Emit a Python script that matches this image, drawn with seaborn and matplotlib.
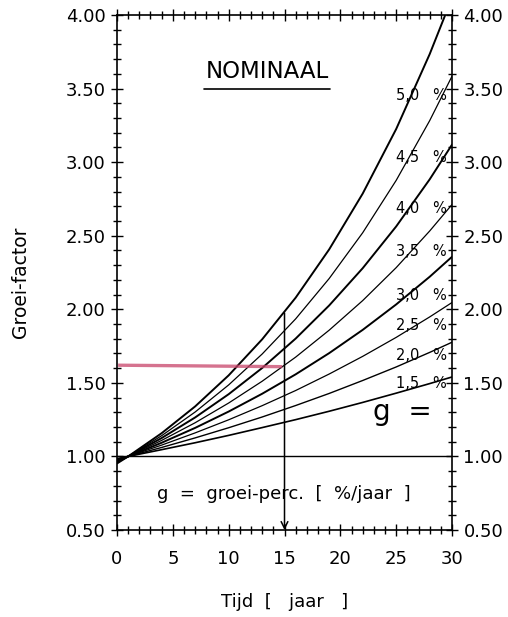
import numpy as np
import pandas as pd
import seaborn as sns
import matplotlib.pyplot as plt
from matplotlib.ticker import MultipleLocator

jaren = [0, 1, 4, 7, 10, 13, 16, 19, 22, 25, 28, 30]

# Groeifactor per groeipercentage
g_15 = [0.985, 1.00, 1.046, 1.093, 1.143, 1.196, 1.250, 1.307, 1.367, 1.430, 1.495, 1.540]
g_20 = [0.980, 1.00, 1.061, 1.126, 1.195, 1.268, 1.346, 1.428, 1.516, 1.608, 1.707, 1.776]
g_25 = [0.976, 1.00, 1.077, 1.160, 1.249, 1.345, 1.448, 1.560, 1.680, 1.809, 1.948, 2.046]
g_30 = [0.971, 1.00, 1.093, 1.194, 1.305, 1.426, 1.558, 1.702, 1.860, 2.033, 2.221, 2.357]
g_35 = [0.966, 1.00, 1.109, 1.229, 1.363, 1.511, 1.675, 1.858, 2.059, 2.283, 2.532, 2.712]
g_40 = [0.962, 1.00, 1.125, 1.265, 1.423, 1.601, 1.801, 2.026, 2.279, 2.563, 2.883, 3.119]
g_45 = [0.957, 1.00, 1.141, 1.302, 1.486, 1.696, 1.935, 2.209, 2.520, 2.876, 3.282, 3.584]
g_50 = [0.952, 1.00, 1.158, 1.340, 1.551, 1.796, 2.079, 2.407, 2.786, 3.225, 3.734, 4.116]

reeksen = [g_15, g_20, g_25, g_30, g_35, g_40, g_45, g_50]
labels = ['1,5', '2,0', '2,5', '3,0', '3,5', '4,0', '4,5', '5,0']
label_y = [1.495, 1.687, 1.891, 2.095, 2.390, 2.685, 3.034, 3.456]
dikte = [1.2, 1.0, 0.9, 1.4, 0.9, 1.4, 0.9, 1.4]

sns.set_style('ticks')
plt.rcParams['font.family'] = ['DejaVu Sans']
plt.rcParams['text.color'] = 'black'
plt.rcParams['axes.labelcolor'] = 'black'

fig = plt.figure(figsize=(5.08, 6.17), dpi=100)
ax = fig.add_axes([0.2303, 0.141, 0.6595, 0.8347])

for vals, lw in zip(reeksen, dikte):
    sns.lineplot(x=jaren, y=vals, color='black', lw=lw, ax=ax)

# referentielijn 1.00
ax.axhline(1.0, color='black', lw=1.0)

# rode lijn en pijl bij 15 jaar
ax.plot([0.1, 14.8], [1.62, 1.61], color='#c8446a', lw=2.4, alpha=0.75, solid_capstyle='butt')
ax.annotate('', xy=(15, 0.5), xytext=(15, 1.975),
            arrowprops=dict(arrowstyle='->', color='black', lw=1.1,
                            mutation_scale=12, shrinkA=0, shrinkB=0))

# teksten
for lab, y in zip(labels, label_y):
    ax.text(25.0, y, lab + '   %', fontsize=10.5, ha='left', va='center')

ax.text(13.45, 3.615, 'NOMINAAL', fontsize=16.5, ha='center', va='center')
ax.plot([7.8, 19.1], [3.495, 3.495], color='black', lw=1.2)
ax.text(22.9, 1.30, 'g  =', fontsize=20, ha='left', va='center')
ax.text(14.95, 0.745, 'g  =  groei-perc.  [  %/jaar  ]', fontsize=13, ha='center', va='center')

ax.set_xlim(0, 30)
ax.set_ylim(0.5, 4.0)
ax.xaxis.set_major_locator(MultipleLocator(5))
ax.xaxis.set_minor_locator(MultipleLocator(1))
ax.yaxis.set_major_locator(MultipleLocator(0.5))
ax.yaxis.set_minor_locator(MultipleLocator(0.1))
ax.set_yticklabels([f'{v:.2f}' for v in ax.get_yticks()])

ax.tick_params(which='both', direction='inout', top=True, right=True,
               labelright=True, width=1.0, colors='black', labelsize=13)
ax.tick_params(which='major', length=8.5)
ax.tick_params(which='minor', length=5.5)
ax.tick_params(axis='x', which='major', pad=10)
ax.tick_params(axis='y', which='major', pad=4)

for sp in ax.spines.values():
    sp.set_linewidth(1.2)
    sp.set_color('black')

ax.set_xlabel('')
ax.set_ylabel('')
fig.text(0.041, 0.543, 'Groei-factor', rotation=90, fontsize=13.5, ha='center', va='center')
fig.text(0.560, 0.024, 'Tijd  [   jaar   ]', fontsize=13, ha='center', va='center')

fig.savefig('out.png', dpi=100)
